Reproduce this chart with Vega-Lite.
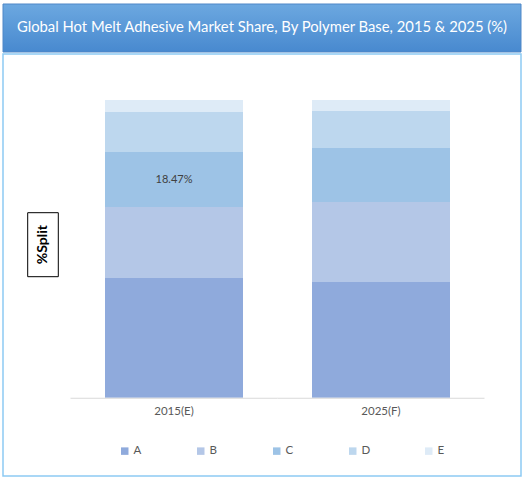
{
  "$schema": "https://vega.github.io/schema/vega-lite/v6.json",
  "padding": {"left": 2, "top": 3, "right": 0, "bottom": 0},
  "autosize": {"type": "pad"},
  "background": "white",
  "spacing": 0,
  "config": {
    "font": "Lato",
    "view": {"stroke": null}
  },
  "vconcat": [
    {
      "width": 518,
      "height": 48,
      "data": {"values": [{"title": "Global Hot Melt Adhesive Market Share, By Polymer Base, 2015 & 2025 (%)"}]},
      "layer": [
        {
          "mark": {
            "type": "rect",
            "stroke": "#4f87c7",
            "strokeWidth": 1,
            "fill": {
              "gradient": "linear",
              "x1": 0, "y1": 0, "x2": 0, "y2": 1,
              "stops": [
                {"offset": 0, "color": "#6ca8e0"},
                {"offset": 1, "color": "#4889cf"}
              ]
            }
          },
          "encoding": {}
        },
        {
          "mark": {"type": "text", "color": "white", "fontSize": 14.8, "font": "Lato", "baseline": "middle", "align": "center"},
          "encoding": {"text": {"field": "title"}}
        }
      ]
    },
    {
      "width": 518,
      "height": 422,
      "view": {"stroke": "#8dcaf4", "strokeWidth": 1.5},
      "layer": [
        {
          "data": {
            "values": [
              {"year": "2015(E)", "polymer": "A", "share": 40.2, "label": ""},
              {"year": "2015(E)", "polymer": "B", "share": 23.85, "label": ""},
              {"year": "2015(E)", "polymer": "C", "share": 18.47, "label": "18.47%"},
              {"year": "2015(E)", "polymer": "D", "share": 13.44, "label": ""},
              {"year": "2015(E)", "polymer": "E", "share": 4.04, "label": ""},
              {"year": "2025(F)", "polymer": "A", "share": 38.86, "label": ""},
              {"year": "2025(F)", "polymer": "B", "share": 26.88, "label": ""},
              {"year": "2025(F)", "polymer": "C", "share": 18.14, "label": ""},
              {"year": "2025(F)", "polymer": "D", "share": 12.43, "label": ""},
              {"year": "2025(F)", "polymer": "E", "share": 3.69, "label": ""}
            ]
          },
          "encoding": {
            "x": {
              "field": "year",
              "type": "nominal",
              "sort": null,
              "scale": {"paddingInner": 0.3333, "paddingOuter": 0.4179, "align": 0.5896},
              "axis": {
                "orient": "bottom",
                "offset": -78.3,
                "domain": false,
                "ticks": false,
                "grid": false,
                "labelAngle": 0,
                "labelPadding": 8,
                "labelFont": "Lato",
                "labelFontSize": 11.5,
                "labelColor": "#595959",
                "title": null
              }
            }
          },
          "layer": [
            {
              "mark": {"type": "bar"},
              "encoding": {
                "y": {
                  "field": "share",
                  "type": "quantitative",
                  "stack": "zero",
                  "scale": {"domain": [-26.3, 115.45], "nice": false, "zero": false},
                  "axis": null
                },
                "color": {
                  "field": "polymer",
                  "type": "nominal",
                  "scale": {
                    "domain": ["A", "B", "C", "D", "E"],
                    "range": ["#8faadc", "#b4c7e7", "#9dc3e6", "#bdd7ee", "#deebf7"]
                  },
                  "legend": {
                    "orient": "none",
                    "direction": "horizontal",
                    "columns": 5,
                    "legendX": 116,
                    "legendY": 441,
                    "title": null,
                    "symbolType": "square",
                    "symbolSize": 56,
                    "symbolStrokeWidth": 0,
                    "labelFont": "Lato",
                    "labelFontSize": 11.5,
                    "labelColor": "#595959",
                    "labelOffset": 3,
                    "columnPadding": 52,
                    "gridAlign": "all",
                    "padding": 0
                  }
                },
                "order": {"field": "polymer", "sort": "ascending"}
              }
            },
            {
              "mark": {"type": "text", "color": "#404040", "fontSize": 11, "font": "Lato", "baseline": "middle"},
              "encoding": {
                "y": {
                  "field": "share",
                  "type": "quantitative",
                  "stack": "zero",
                  "bandPosition": 0.5
                },
                "detail": {"field": "polymer"},
                "order": {"field": "polymer", "sort": "ascending"},
                "text": {"field": "label"}
              }
            },
            {
              "transform": [{"filter": "datum.polymer == 'A'"}],
              "mark": {"type": "bar", "color": "#d9d9d9", "width": {"band": 1.5}},
              "encoding": {
                "y": {"datum": 0},
                "y2": {"datum": -0.34}
              }
            }
          ]
        },
        {
          "data": {"values": [{"axisTitle": "%Split"}]},
          "encoding": {
            "x": {
              "field": "axisTitle",
              "type": "nominal",
              "scale": {"paddingInner": 0.87443, "paddingOuter": 1, "align": 0.05068},
              "axis": null
            },
            "y": {
              "field": "axisTitle",
              "type": "nominal",
              "scale": {"paddingInner": 0.64245, "paddingOuter": 1, "align": 0.4433},
              "axis": null
            }
          },
          "layer": [
            {
              "mark": {"type": "rect", "fill": "white", "stroke": "black", "strokeWidth": 1}
            },
            {
              "mark": {"type": "text", "angle": 270, "font": "Lato", "fontWeight": "bold", "fontSize": 14, "color": "black", "align": "center", "baseline": "middle"},
              "encoding": {"text": {"field": "axisTitle"}}
            }
          ]
        }
      ],
      "resolve": {"scale": {"x": "independent", "y": "independent"}}
    }
  ]
}
